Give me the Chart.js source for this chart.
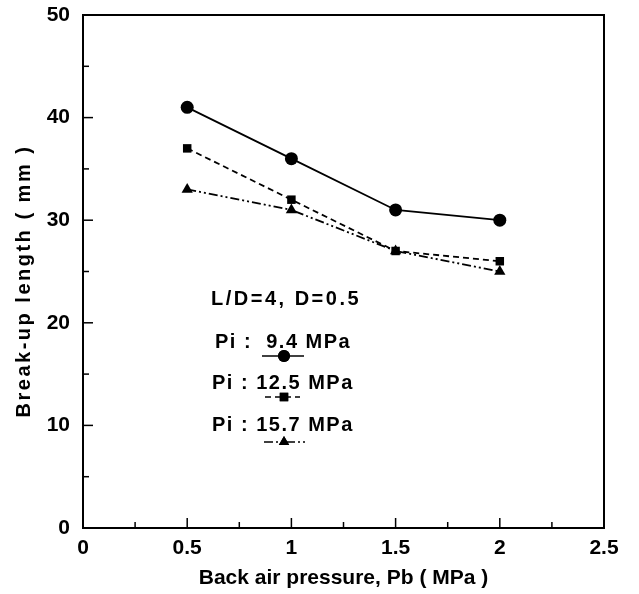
<!DOCTYPE html>
<html lang="en">
<head>
    <meta charset="UTF-8">
    <title>Break-up length</title>
    <style>
        body { margin: 0; background: #fff; }
        #chart { display: block; }
    </style>
</head>
<body>
    <canvas id="chart" width="639" height="594"></canvas>

    <script src="https://cdn.jsdelivr.net/npm/chart.js"></script>
    <script>
        // values
        const backPressure = [0.5, 1, 1.5, 2];
        const pi94 = [41, 36, 31, 30];
        const pi125 = [37, 32, 27, 26];
        const pi157 = [33, 31, 27, 25];
        const seriesLabels = ['Pi :  9.4 MPa', 'Pi : 12.5 MPa', 'Pi : 15.7 MPa'];
        const xTicks = [0, 0.5, 1, 1.5, 2, 2.5];
        const yTicks = [0, 10, 20, 30, 40, 50];

        const font = '"Liberation Sans", Arial, sans-serif';
        const dashes = [[], [6, 4], [9, 3, 2, 3, 2, 3]];
        const shapes = ['circle', 'rect', 'triangle'];

        function toPoints(ys) {
            return backPressure.map((x, i) => ({ x: x, y: ys[i] }));
        }

        function makeSet(label, ys, k) {
            return {
                label: label,
                data: toPoints(ys),
                borderColor: '#000',
                backgroundColor: '#000',
                borderWidth: 1.8,
                borderDash: dashes[k],
                pointStyle: shapes[k],
                pointRadius: k === 1 ? 6 : 6.5,
                pointBorderWidth: 0,
                tension: 0,
                fill: false
            };
        }

        // frame with inward major/minor ticks
        const framePlugin = {
            id: 'frame',
            afterDatasetsDraw(chart) {
                const { ctx, chartArea: a, scales } = chart;
                ctx.save();
                ctx.strokeStyle = '#000';
                ctx.lineWidth = 2;
                ctx.strokeRect(a.left, a.top, a.right - a.left, a.bottom - a.top);
                ctx.lineWidth = 1.5;
                for (let v = 0; v <= 2.5001; v += 0.25) {
                    const px = scales.x.getPixelForValue(v);
                    const len = Math.abs(v * 2 - Math.round(v * 2)) < 1e-6 ? 10 : 6;
                    ctx.beginPath();
                    ctx.moveTo(px, a.bottom);
                    ctx.lineTo(px, a.bottom - len);
                    ctx.stroke();
                }
                for (let v = 0; v <= 50; v += 5) {
                    const py = scales.y.getPixelForValue(v);
                    const len = v % 10 === 0 ? 10 : 6;
                    ctx.beginPath();
                    ctx.moveTo(a.left, py);
                    ctx.lineTo(a.left + len, py);
                    ctx.stroke();
                }
                ctx.restore();
            }
        };

        // the in-plot key text, samples and the spaced-out y title
        const keyPlugin = {
            id: 'key',
            afterDatasetsDraw(chart) {
                const { ctx } = chart;
                ctx.save();
                ctx.fillStyle = '#000';
                ctx.strokeStyle = '#000';
                ctx.font = 'bold 20px ' + font;
                ctx.textBaseline = 'middle';
                ctx.textAlign = 'left';
                ctx.letterSpacing = '2.5px';
                ctx.fillText('L/D=4, D=0.5', 211, 299);
                ctx.letterSpacing = '1.5px';
                const rows = [
                    { ty: 342, sy: 356, x0: 262, x1: 304, tx: 215 },
                    { ty: 383, sy: 397, x0: 265, x1: 300, tx: 212 },
                    { ty: 425, sy: 442, x0: 264, x1: 305, tx: 212 }
                ];
                rows.forEach((r, k) => {
                    ctx.fillText(seriesLabels[k], r.tx, r.ty);
                    ctx.lineWidth = 1.5;
                    ctx.setLineDash(dashes[k]);
                    ctx.beginPath();
                    ctx.moveTo(r.x0, r.sy);
                    ctx.lineTo(r.x1, r.sy);
                    ctx.stroke();
                    ctx.setLineDash([]);
                    Chart.helpers.drawPoint(ctx, {
                        pointStyle: shapes[k],
                        radius: 6,
                        borderWidth: 0
                    }, 284, r.sy);
                    ctx.fill();
                });

                // y axis title
                ctx.translate(24, 281);
                ctx.rotate(-Math.PI / 2);
                ctx.textAlign = 'center';
                ctx.letterSpacing = '2.5px';
                ctx.fillText('Break-up length ( mm )', 0, 0);
                ctx.restore();
            }
        };

        new Chart(document.getElementById('chart'), {
            type: 'line',
            data: {
                datasets: [
                    makeSet(seriesLabels[0], pi94, 0),
                    makeSet(seriesLabels[1], pi125, 1),
                    makeSet(seriesLabels[2], pi157, 2)
                ]
            },
            options: {
                responsive: false,
                animation: false,
                layout: { padding: { top: 15, right: 35, left: 0, bottom: 0 } },
                plugins: {
                    legend: { display: false },
                    tooltip: { enabled: false }
                },
                scales: {
                    x: {
                        type: 'linear',
                        min: 0,
                        max: 2.5,
                        afterBuildTicks: s => { s.ticks = xTicks.map(v => ({ value: v })); },
                        afterFit: s => {
                            s.height = 66;
                            s.paddingLeft = 0;
                            s.paddingRight = 0;
                        },
                        grid: { display: false, drawTicks: false },
                        border: { display: false },
                        ticks: {
                            color: '#000',
                            padding: 8,
                            font: { family: font, size: 21, weight: 'bold' },
                            callback: v => String(v)
                        },
                        title: {
                            display: true,
                            text: 'Back air pressure, Pb ( MPa )',
                            color: '#000',
                            font: { family: font, size: 21, weight: 'bold' },
                            padding: { top: 2, bottom: 3 }
                        }
                    },
                    y: {
                        min: 0,
                        max: 50,
                        afterBuildTicks: s => { s.ticks = yTicks.map(v => ({ value: v })); },
                        afterFit: s => {
                            s.width = 83;
                            s.paddingTop = 0;
                            s.paddingBottom = 0;
                        },
                        grid: { display: false, drawTicks: false },
                        border: { display: false },
                        ticks: {
                            color: '#000',
                            padding: 13,
                            font: { family: font, size: 21, weight: 'bold' }
                        },
                        title: { display: false }
                    }
                }
            },
            plugins: [framePlugin, keyPlugin]
        });
    </script>
</body>
</html>
